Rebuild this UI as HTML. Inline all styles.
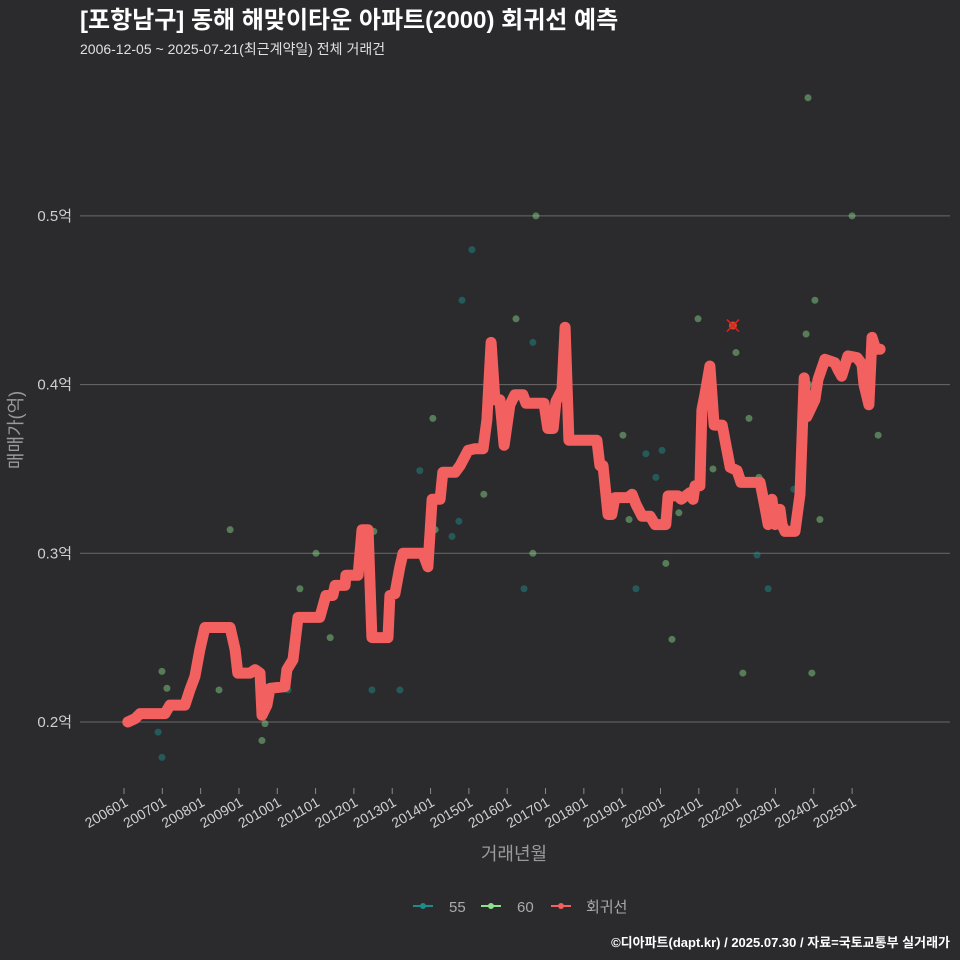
<!DOCTYPE html>
<html><head><meta charset="utf-8"><style>
body{margin:0;background:#2b2b2d;}
svg{display:block;font-family:"Liberation Sans","Noto Sans CJK KR",sans-serif;}
</style></head><body>
<svg id="chart" width="960" height="960" viewBox="0 0 960 960">
<rect width="960" height="960" fill="#2b2b2d"/>
<text x="80" y="28" fill="#ffffff" font-size="24" font-weight="bold">[포항남구] 동해 해맞이타운 아파트(2000) 회귀선 예측</text>
<text x="80" y="54" fill="#e0e0e0" font-size="14">2006-12-05 ~ 2025-07-21(최근계약일) 전체 거래건</text>
<g id="grid"></g>
<g id="yticks"></g>
<g id="xticks"></g>
<g id="points"></g>
<path id="reg" fill="none" stroke="#f26060" stroke-width="11" stroke-linejoin="round" stroke-linecap="round"/>
<g id="hl"></g>
<text x="22" y="430" fill="#9a9a9a" font-size="18" transform="rotate(-90 22 430)" text-anchor="middle">매매가(억)</text>
<text x="514" y="860" fill="#9a9a9a" font-size="18" text-anchor="middle">거래년월</text>
<g>
<g><line x1="413" y1="906" x2="433" y2="906" stroke="#1f8a8a" stroke-width="2"/><circle cx="423" cy="906" r="3" fill="#1f8a8a"/><text x="449" y="912" fill="#aaaaaa" font-size="15">55</text></g>
<g><line x1="481" y1="906" x2="501" y2="906" stroke="#8ee08e" stroke-width="2"/><circle cx="491" cy="906" r="3" fill="#8ee08e"/><text x="517" y="912" fill="#aaaaaa" font-size="15">60</text></g>
<g><line x1="551" y1="906" x2="571" y2="906" stroke="#f26060" stroke-width="2"/><circle cx="561" cy="906" r="3" fill="#f26060"/><text x="586" y="912" fill="#aaaaaa" font-size="15">회귀선</text></g>
</g>
<text x="950" y="947" fill="#ffffff" font-size="13" font-weight="bold" text-anchor="end">©디아파트(dapt.kr) / 2025.07.30 / 자료=국토교통부 실거래가</text>
</svg>
<script>
const yTickValues=[0.2,0.3,0.4,0.5];
const yTickLabels=["0.2억","0.3억","0.4억","0.5억"];
const xTickYears=[2006,2007,2008,2009,2010,2011,2012,2013,2014,2015,2016,2017,2018,2019,2020,2021,2022,2023,2024,2025];
const xTickLabels=["200601","200701","200801","200901","201001","201101","201201","201301","201401","201501","201601","201701","201801","201901","202001","202101","202201","202301","202401","202501"];
const regT=[2006.10,2006.29,2006.42,2007.07,2007.20,2007.59,2007.72,2007.85,2007.98,2008.11,2008.77,2008.90,2008.97,2009.29,2009.42,2009.55,2009.60,2009.73,2009.81,2010.20,2010.25,2010.41,2010.54,2011.11,2011.27,2011.45,2011.51,2011.77,2011.79,2012.11,2012.21,2012.37,2012.47,2012.89,2012.94,2013.07,2013.20,2013.28,2013.80,2013.93,2014.04,2014.25,2014.32,2014.64,2014.77,2014.98,2015.16,2015.37,2015.47,2015.58,2015.68,2015.81,2015.92,2016.07,2016.20,2016.41,2016.49,2016.96,2017.06,2017.20,2017.27,2017.43,2017.51,2017.61,2018.34,2018.42,2018.50,2018.63,2018.73,2018.81,2019.15,2019.26,2019.36,2019.52,2019.73,2019.86,2020.14,2020.20,2020.46,2020.54,2020.77,2020.85,2020.90,2021.03,2021.08,2021.16,2021.29,2021.40,2021.61,2021.71,2021.82,2022.00,2022.10,2022.60,2022.73,2022.81,2022.91,2022.99,2023.04,2023.12,2023.17,2023.25,2023.51,2023.64,2023.75,2023.82,2024.03,2024.11,2024.29,2024.55,2024.63,2024.73,2024.89,2025.13,2025.26,2025.31,2025.44,2025.52,2025.62,2025.73];
const regV=[0.200,0.202,0.205,0.205,0.210,0.210,0.219,0.227,0.243,0.256,0.256,0.243,0.229,0.229,0.231,0.229,0.204,0.210,0.220,0.221,0.231,0.237,0.262,0.262,0.275,0.275,0.281,0.281,0.287,0.287,0.314,0.314,0.250,0.250,0.275,0.276,0.292,0.300,0.300,0.292,0.332,0.332,0.348,0.348,0.352,0.361,0.362,0.362,0.379,0.425,0.391,0.391,0.364,0.388,0.394,0.394,0.389,0.389,0.374,0.374,0.390,0.397,0.434,0.367,0.367,0.352,0.352,0.323,0.323,0.333,0.333,0.335,0.329,0.322,0.322,0.317,0.317,0.334,0.334,0.332,0.336,0.332,0.340,0.340,0.385,0.394,0.411,0.376,0.376,0.364,0.351,0.349,0.342,0.342,0.327,0.317,0.332,0.317,0.326,0.326,0.317,0.313,0.313,0.335,0.404,0.381,0.391,0.403,0.415,0.413,0.409,0.405,0.417,0.416,0.412,0.400,0.388,0.428,0.421,0.421];
const s55T=[2006.89,2006.99,2010.28,2012.47,2013.20,2013.72,2014.56,2014.74,2014.82,2015.08,2016.44,2016.67,2019.36,2019.62,2019.88,2020.04,2022.52,2022.81,2023.48];
const s55V=[0.194,0.179,0.219,0.219,0.219,0.349,0.310,0.319,0.450,0.480,0.279,0.425,0.279,0.359,0.345,0.361,0.299,0.279,0.338];
const s60T=[2006.99,2007.12,2008.48,2008.77,2009.60,2009.68,2010.59,2011.01,2011.38,2012.52,2014.06,2014.12,2015.39,2016.23,2016.67,2016.75,2019.02,2019.18,2020.14,2020.30,2020.48,2020.98,2021.37,2021.97,2022.15,2022.31,2022.57,2023.85,2023.80,2023.88,2023.95,2024.03,2024.16,2025.00,2025.68];
const s60V=[0.230,0.220,0.219,0.314,0.189,0.199,0.279,0.300,0.250,0.313,0.380,0.314,0.335,0.439,0.300,0.500,0.370,0.320,0.294,0.249,0.324,0.439,0.350,0.419,0.229,0.380,0.345,0.570,0.430,0.400,0.229,0.450,0.320,0.500,0.370];
const highlightT=[2021.89];
const highlightV=[0.435];

const NS="http://www.w3.org/2000/svg";
function xs(t){return 124+(t-2006)*38.32;}
function ys(v){return 722-(v-0.2)*1687;}
function mk(tag,attrs,parent){const e=document.createElementNS(NS,tag);for(const k in attrs)e.setAttribute(k,attrs[k]);parent.appendChild(e);return e;}
const grid=document.getElementById('grid'),yt=document.getElementById('yticks'),xt=document.getElementById('xticks');
yTickValues.forEach((v,i)=>{
  const l=mk('line',{x1:80,x2:950,y1:ys(v),y2:ys(v),stroke:'#6a6a6a','stroke-width':1},grid);
  
  
  const t=mk('text',{x:72,y:ys(v)+5,fill:'#cfcfcf','font-size':15,'text-anchor':'end'},yt);
  t.textContent=yTickLabels[i];
  
  
});
xTickYears.forEach((yr,i)=>{
  const x=xs(yr);
  const tk=mk('line',{x1:x,x2:x,y1:788,y2:794,stroke:'#8a8a8a'},xt);
  
  
  const t=mk('text',{x:x+5,y:805,fill:'#cfcfcf','font-size':14,'text-anchor':'end',transform:`rotate(-30 ${x+5} 805)`},xt);
  t.textContent=xTickLabels[i];
  
  
});
const pts=document.getElementById('points');
s55T.forEach((t,i)=>{
  const c=mk('circle',{cx:xs(t),cy:ys(s55V[i]),r:3.5,fill:'#1f8a8a','fill-opacity':0.5},pts);
  
  
});
s60T.forEach((t,i)=>{
  const c=mk('circle',{cx:xs(t),cy:ys(s60V[i]),r:3.5,fill:'#8ee08e','fill-opacity':0.45},pts);
  
  
});
document.getElementById('reg').setAttribute('d',regT.map((t,i)=>(i?'L':'M')+xs(t).toFixed(1)+' '+ys(regV[i]).toFixed(1)).join(''));
const hl=document.getElementById('hl');
highlightT.forEach((t,i)=>{
  const x=xs(t),y=ys(highlightV[i]);
  mk('circle',{cx:x,cy:y,r:4,fill:'#c0502a'},hl);
  mk('path',{d:`M${x-6} ${y-6}L${x+6} ${y+6}M${x-6} ${y+6}L${x+6} ${y-6}`,stroke:'#e02020','stroke-width':1.5},hl);
});
</script>
</body></html>
